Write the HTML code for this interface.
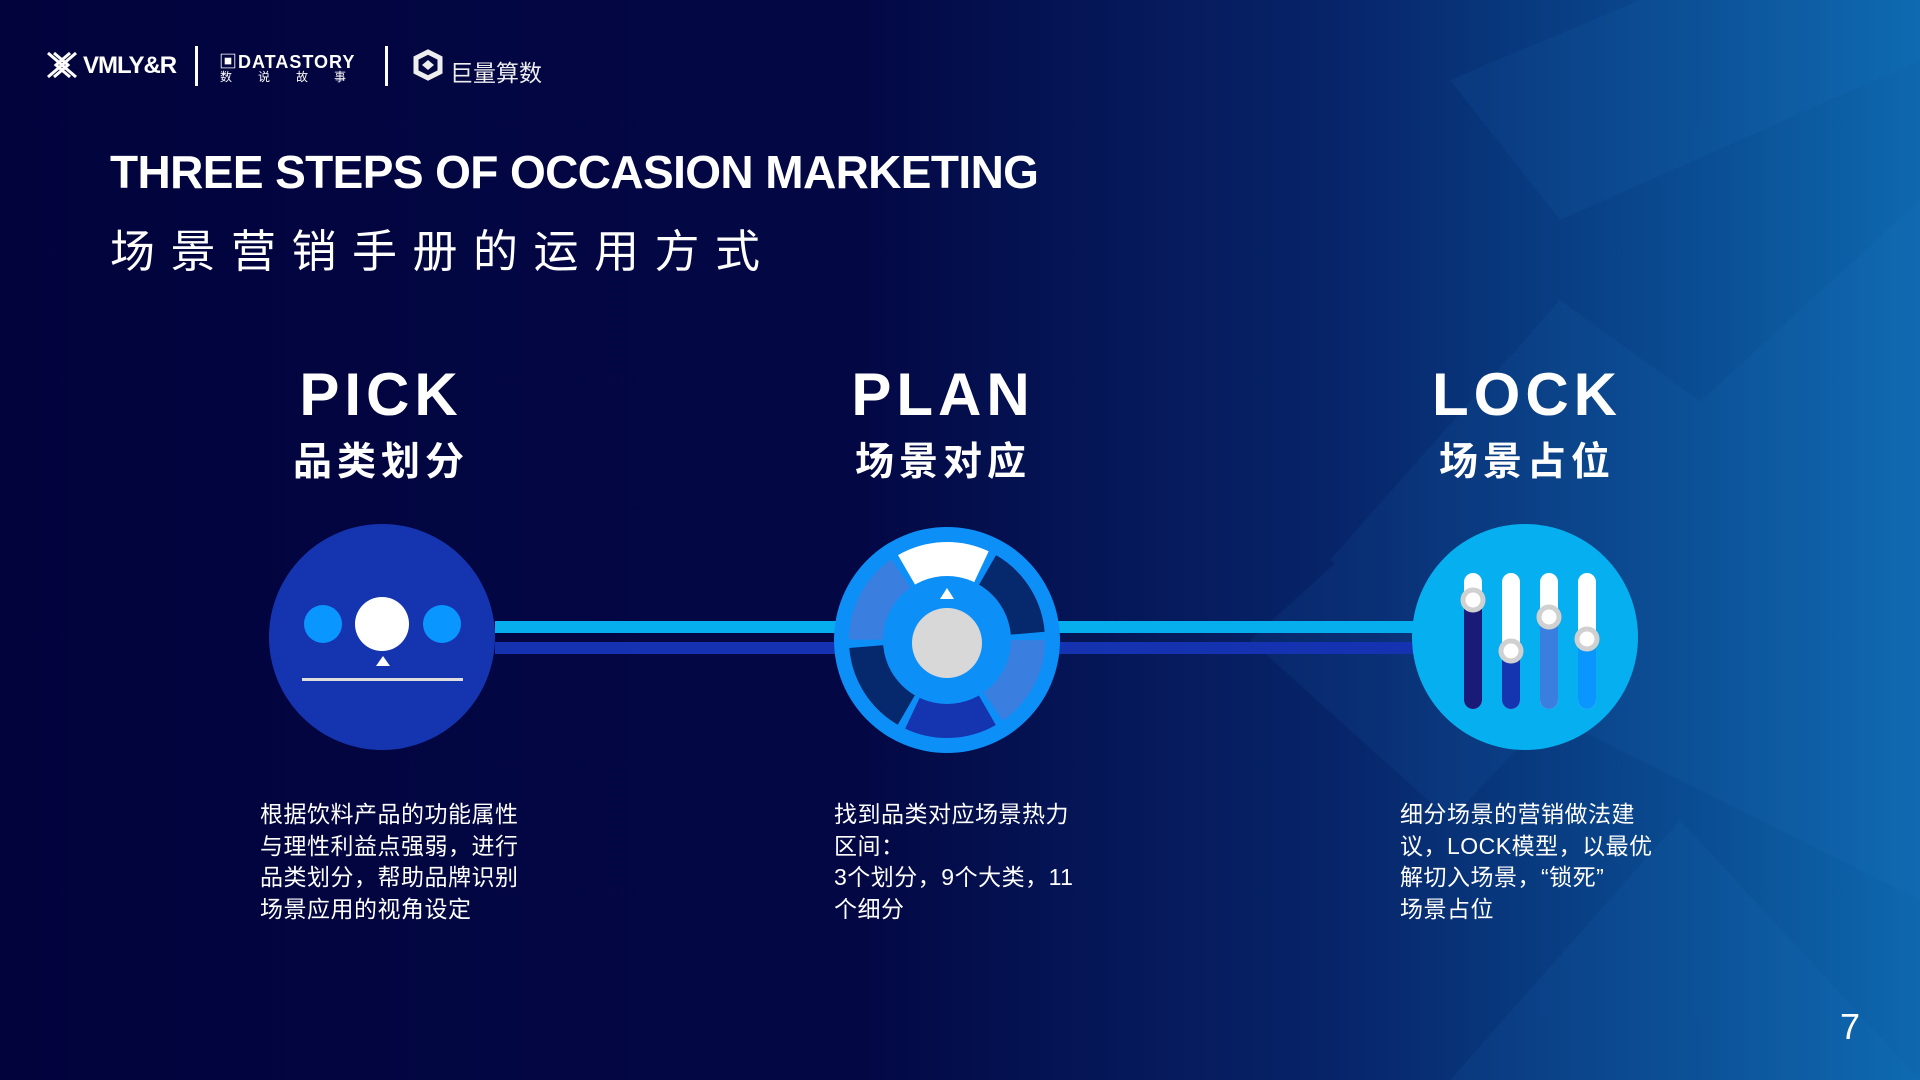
<!DOCTYPE html>
<html><head><meta charset="utf-8"><style>
html,body{margin:0;padding:0}
body{width:1920px;height:1080px;overflow:hidden;position:relative;background:linear-gradient(90deg,#02033d 0%,#030845 45%,#07256a 70%,#0a4c92 88%,#0e68ae 100%);font-family:"Liberation Sans","Noto Sans CJK SC",sans-serif;color:#fff}
.a{position:absolute;white-space:nowrap}
.h{font-weight:bold;font-size:60px;letter-spacing:5px;text-align:center;width:400px}
.s{font-weight:bold;font-size:39px;letter-spacing:5px;text-align:center;width:400px}
.p{font-size:23px;line-height:31.5px;letter-spacing:0.5px}
</style></head><body>
<svg class="a" style="left:0;top:0" width="1920" height="1080">
<g opacity="0.08" fill="#2a8ad8">
<polygon points="1450,80 1640,0 1920,0 1920,60 1560,220"/>
<polygon points="1330,560 1560,300 1920,560 1920,900 1560,720"/>
<polygon points="1250,640 1450,460 1620,640 1450,820"/>
<polygon points="1680,420 1920,200 1920,640"/>
<polygon points="1450,1080 1680,820 1920,1080"/>
</g>
<rect x="495" y="621" width="920" height="12" fill="#07aeee"/>
<rect x="495" y="642" width="920" height="12" fill="#1533b0"/>
<circle cx="382" cy="637" r="113" fill="#1535b0"/>
<circle cx="323" cy="624" r="19" fill="#0a96ff"/>
<circle cx="442" cy="624" r="19" fill="#0a96ff"/>
<circle cx="382" cy="624" r="27" fill="#fff"/>
<polygon points="383,656 376,666 390,666" fill="#fff"/>
<rect x="302" y="678" width="161" height="3" fill="#ddd"/>
<circle cx="947" cy="640" r="113" fill="#0d8ff8"/>
<g transform="rotate(-120 947 640)">
<circle cx="947" cy="640" r="80" fill="none" stroke-width="36" stroke="#fff" stroke-dasharray="77 425.7" stroke-dashoffset="0"/>
<circle cx="947" cy="640" r="80" fill="none" stroke-width="36" stroke="#06286c" stroke-dasharray="77 425.7" stroke-dashoffset="-83.8"/>
<circle cx="947" cy="640" r="80" fill="none" stroke-width="36" stroke="#3a7ee0" stroke-dasharray="77 425.7" stroke-dashoffset="-167.6"/>
<circle cx="947" cy="640" r="80" fill="none" stroke-width="36" stroke="#1535b0" stroke-dasharray="77 425.7" stroke-dashoffset="-251.4"/>
<circle cx="947" cy="640" r="80" fill="none" stroke-width="36" stroke="#06286c" stroke-dasharray="77 425.7" stroke-dashoffset="-335.2"/>
<circle cx="947" cy="640" r="80" fill="none" stroke-width="36" stroke="#3a7ee0" stroke-dasharray="77 425.7" stroke-dashoffset="-419"/>
</g>
<circle cx="947" cy="640" r="64" fill="#0d8ff8"/>
<circle cx="947" cy="643" r="35" fill="#d8d8d8"/>
<polygon points="947,588 940,599 954,599" fill="#fff"/>
<circle cx="1525" cy="637" r="113" fill="#05aff0"/>
<g stroke-linecap="round" stroke-width="18">
<line x1="1473" y1="582" x2="1473" y2="700" stroke="#fff"/><line x1="1473" y1="600" x2="1473" y2="700" stroke="#1a1a78"/>
<line x1="1511" y1="582" x2="1511" y2="700" stroke="#fff"/><line x1="1511" y1="651" x2="1511" y2="700" stroke="#1535b0"/>
<line x1="1549" y1="582" x2="1549" y2="700" stroke="#fff"/><line x1="1549" y1="617" x2="1549" y2="700" stroke="#3a7ee0"/>
<line x1="1587" y1="582" x2="1587" y2="700" stroke="#fff"/><line x1="1587" y1="639" x2="1587" y2="700" stroke="#0a96ff"/>
</g>
<g fill="#fff" stroke="#d0d0d0" stroke-width="5">
<circle cx="1473" cy="600" r="10"/><circle cx="1511" cy="651" r="10"/><circle cx="1549" cy="617" r="10"/><circle cx="1587" cy="639" r="10"/>
</g>
<g stroke="#fff" stroke-width="3" fill="none">
<path d="M48,53 L62,65 L48,77 M54,53 L68,65 L54,77 M76,53 L62,65 L76,77 M70,53 L56,65 L70,77"/>
</g>
<rect x="195" y="46" width="3" height="40" fill="#fff"/>
<rect x="385" y="46" width="3" height="40" fill="#fff"/>
<path d="M428,52 L440,58 L440,72 L428,78 L416,72 L416,58 Z" fill="none" stroke="#eee" stroke-width="5"/>
<path d="M428,60 L434,65 L428,70 L422,65Z" fill="#eee"/>
</svg>
<div class="a" style="left:83px;top:52px;font-size:24px;font-weight:bold;letter-spacing:-1px">VMLY&amp;R</div>
<div class="a" style="left:219px;top:48px;font-size:18px;font-weight:bold;letter-spacing:1px">▣DATASTORY</div>
<div class="a" style="left:220px;top:68px;font-size:12px;letter-spacing:26px">数说故事</div>
<div class="a" style="left:450px;top:54px;font-size:23px;color:#eee">巨量算数</div>
<div class="a" style="left:110px;top:145px;font-size:46px;font-weight:bold;letter-spacing:-0.6px">THREE STEPS OF OCCASION MARKETING</div>
<div class="a" style="left:110px;top:215px;font-size:45px;letter-spacing:15.5px">场景营销手册的运用方式</div>
<div class="a h" style="left:181px;top:360px">PICK</div>
<div class="a s" style="left:181px;top:431px">品类划分</div>
<div class="a h" style="left:743px;top:360px">PLAN</div>
<div class="a s" style="left:743px;top:431px">场景对应</div>
<div class="a h" style="left:1327px;top:360px">LOCK</div>
<div class="a s" style="left:1327px;top:431px">场景占位</div>
<div class="a p" style="left:260px;top:799px">根据饮料产品的功能属性<br>与理性利益点强弱，进行<br>品类划分，帮助品牌识别<br>场景应用的视角设定</div>
<div class="a p" style="left:834px;top:799px">找到品类对应场景热力<br>区间：<br>3个划分，9个大类，11<br>个细分</div>
<div class="a p" style="left:1400px;top:799px">细分场景的营销做法建<br>议，LOCK模型，以最优<br>解切入场景，“锁死”<br>场景占位</div>
<div class="a" style="left:1840px;top:1006px;font-size:36px">7</div>
</body></html>
